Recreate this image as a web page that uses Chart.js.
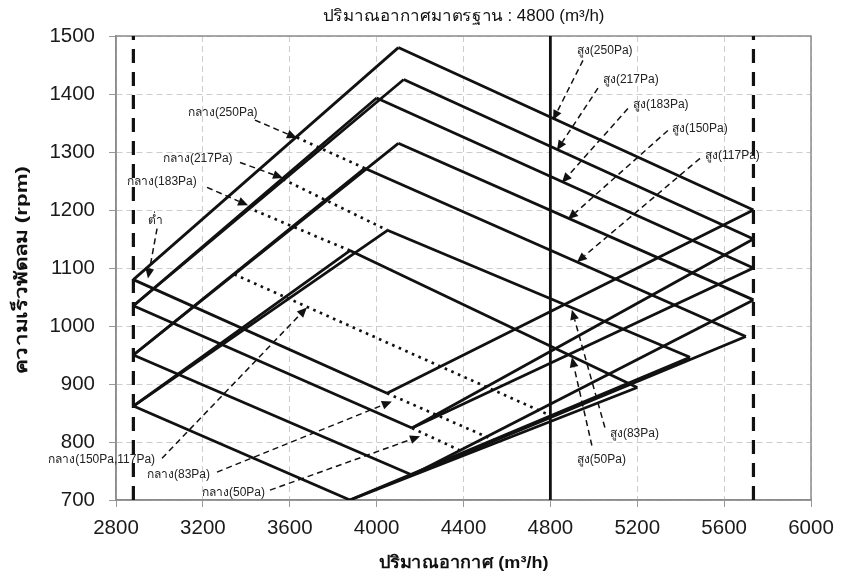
<!DOCTYPE html>
<html>
<head>
<meta charset="utf-8">
<script src="https://cdn.jsdelivr.net/npm/chart.js@4"></script>
<style>
  html, body { margin: 0; padding: 0; background: #ffffff; }
  #wrap { width: 849px; height: 576px; }
</style>
</head>
<body>
<div id="wrap"><canvas id="fanChart" width="849" height="576"></canvas></div>
<script>
// Axis ticks
const airflowTicks = [2800, 3200, 3600, 4000, 4400, 4800, 5200, 5600, 6000];
const rpmTicks = [700, 800, 900, 1000, 1100, 1200, 1300, 1400, 1500];

// Rated airflow and the usable airflow limits (m3/h)
const ratedAirflow = 4800;
const airflowLimits = [2880, 5735];

// Rising lines of each static-pressure setting: low tap point -> high tap point
const rise250 = [[2880, 1080], [4100, 1480]];
const rise217 = [[2880, 1035], [4125, 1425]];
const rise183 = [[2880, 1035], [4000, 1393]];
const rise150 = [[2880, 950], [4100, 1315]];
const rise117 = [[2880, 950], [3945, 1272]];
const rise83 = [[2880, 862], [4050, 1165]];
const rise50 = [[2880, 862], [3877, 1130]];

// High tap lines (สูง)
const high250 = [[4100, 1480], [5735, 1200]];
const high217 = [[4125, 1425], [5735, 1150]];
const high183 = [[4000, 1393], [5735, 1100]];
const high150 = [[4100, 1315], [5735, 1045]];
const high117 = [[3945, 1272], [5700, 982]];
const high83 = [[4050, 1165], [5443, 946]];
const high50 = [[3877, 1130], [5200, 894]];

// Low tap lines (ต่ำ)
const low250 = [[2880, 1080], [4048, 884]];
const low217 = [[2880, 1035], [4163, 824]];
const low150 = [[2880, 950], [4163, 743]];
const low83 = [[2880, 862], [3877, 700]];

// Lower boundary of each setting
const edge250 = [[4048, 884], [5735, 1200]];
const edge217 = [[4163, 824], [5735, 1150]];
const edge183 = [[4163, 824], [5735, 1100]];
const edge150 = [[4163, 743], [5735, 1045]];
const edge117 = [[4163, 743], [5700, 982]];
const edge83 = [[3877, 700], [5443, 946]];
const edge50 = [[3877, 700], [5200, 894]];

// Medium tap lines (กลาง), drawn dotted
const mid250 = [[3633, 1325], [3945, 1272]];
const mid217 = [[3569, 1253], [4050, 1165]];
const mid183 = [[3408, 1204], [3877, 1130]];
const mid150 = [[3345, 1089], [4810, 844]];
const mid83 = [[4048, 884], [4536, 804]];
const mid50 = [[4163, 824], [4398, 783]];

// Callout labels: text, text anchor, alignment, arrow start, arrow tip (data units)
const noteText = ['สูง(250Pa)', 'สูง(217Pa)', 'สูง(183Pa)', 'สูง(150Pa)', 'สูง(117Pa)', 'สูง(83Pa)', 'สูง(50Pa)',
  'กลาง(250Pa)', 'กลาง(217Pa)', 'กลาง(183Pa)', 'ต่ำ', 'กลาง(150Pa,117Pa)', 'กลาง(83Pa)', 'กลาง(50Pa)'];
const noteAt = [[4922, 1475], [5042, 1425], [5180, 1382], [5360, 1341], [5512, 1293], [5074, 815], [4922, 769],
  [3131, 1368], [3016, 1289], [2851, 1248], [2947, 1182], [2980, 769], [3233, 743], [3486, 713]];
const noteAlign = ['left', 'left', 'left', 'left', 'left', 'left', 'left',
  'left', 'left', 'left', 'left', 'right', 'right', 'right'];
const noteFrom = [[4950, 1458], [5019, 1410], [5157, 1375], [5341, 1337], [5489, 1289], [5051, 825], [4991, 794],
  [3440, 1355], [3371, 1282], [3219, 1239], [2989, 1168], [3012, 772], [3265, 748], [3509, 717]];
const noteTip = [[4812, 1355], [4830, 1303], [4853, 1247], [4881, 1184], [4922, 1110], [4899, 1028], [4899, 946],
  [3633, 1324], [3569, 1255], [3408, 1208], [2947, 1082], [3679, 1032], [4070, 870], [4200, 810]];

const FONT = "'Liberation Sans', Arial, sans-serif";
const INK = '#111111';

function series(pts, extra) {
  return Object.assign({
    data: pts.map(([x, y]) => ({ x, y })),
    showLine: true,
    pointRadius: 0,
    pointHoverRadius: 0,
    borderColor: INK,
    borderWidth: 2.8,
    fill: false,
    tension: 0
  }, extra || {});
}

const solid = [rise250, rise217, rise183, rise150, rise117, rise83, rise50,
  high250, high217, high183, high150, high117, high83, high50,
  low250, low217, low150, low83,
  edge250, edge217, edge183, edge150, edge117, edge83, edge50];
const dotted = [mid250, mid217, mid183, mid150, mid83, mid50];

const datasets = [];
airflowLimits.forEach(v => datasets.push(series([[v, rpmTicks[0]], [v, rpmTicks[rpmTicks.length - 1]]],
  { borderWidth: 3.2, borderDash: [14, 9] })));
datasets.push(series([[ratedAirflow, rpmTicks[0]], [ratedAirflow, rpmTicks[rpmTicks.length - 1]]], { borderWidth: 2.8 }));
solid.forEach(p => datasets.push(series(p)));
dotted.forEach(p => datasets.push(series(p, { borderDash: [2.6, 4.6], borderWidth: 2.7 })));

function drawArrow(ctx, x1, y1, x2, y2) {
  const ang = Math.atan2(y2 - y1, x2 - x1);
  const hl = 10, hw = 4.4;
  const bx = x2 - hl * Math.cos(ang), by = y2 - hl * Math.sin(ang);
  ctx.save();
  ctx.strokeStyle = INK;
  ctx.lineWidth = 1.5;
  ctx.setLineDash([6, 4]);
  ctx.beginPath();
  ctx.moveTo(x1, y1);
  ctx.lineTo(bx, by);
  ctx.stroke();
  ctx.setLineDash([]);
  ctx.fillStyle = INK;
  ctx.beginPath();
  ctx.moveTo(x2, y2);
  ctx.lineTo(bx + hw * Math.sin(ang), by - hw * Math.cos(ang));
  ctx.lineTo(bx - hw * Math.sin(ang), by + hw * Math.cos(ang));
  ctx.closePath();
  ctx.fill();
  ctx.restore();
}

// Text drawn at a given width, centred on (x, y)
function fitText(ctx, text, x, y, width) {
  const w = ctx.measureText(text).width;
  ctx.save();
  ctx.translate(x, y);
  ctx.scale(width / w, 1);
  ctx.fillText(text, 0, 0);
  ctx.restore();
}

const decor = {
  id: 'decor',
  beforeDatasetsDraw(chart) {
    const { ctx, chartArea: a } = chart;
    ctx.save();
    ctx.strokeStyle = '#8c8c8c';
    ctx.lineWidth = 1.5;
    ctx.strokeRect(a.left, a.top, a.right - a.left, a.bottom - a.top);
    ctx.restore();
  },
  afterDatasetsDraw(chart) {
    const { ctx } = chart;
    const xs = chart.scales.x, ys = chart.scales.y;
    noteText.forEach((t, i) => {
      drawArrow(ctx, xs.getPixelForValue(noteFrom[i][0]), ys.getPixelForValue(noteFrom[i][1]),
        xs.getPixelForValue(noteTip[i][0]), ys.getPixelForValue(noteTip[i][1]));
      ctx.save();
      ctx.font = '12px ' + FONT;
      ctx.fillStyle = '#222';
      ctx.textAlign = noteAlign[i];
      ctx.textBaseline = 'middle';
      ctx.fillText(t, xs.getPixelForValue(noteAt[i][0]), ys.getPixelForValue(noteAt[i][1]));
      ctx.restore();
    });
  },
  afterDraw(chart) {
    const { ctx, chartArea: a } = chart;
    const cx = (a.left + a.right) / 2;
    ctx.save();
    ctx.fillStyle = '#111';
    ctx.textAlign = 'center';
    ctx.textBaseline = 'middle';
    ctx.font = '16px ' + FONT;
    fitText(ctx, 'ปริมาณอากาศมาตรฐาน : 4800 (m³/h)', cx, 17, 282);
    ctx.font = 'bold 17px ' + FONT;
    fitText(ctx, 'ปริมาณอากาศ (m³/h)', cx, 563, 170);
    ctx.translate(22, (a.top + a.bottom) / 2 + 2);
    ctx.rotate(-Math.PI / 2);
    fitText(ctx, 'ความเร็วพัดลม (rpm)', 0, 0, 208);
    ctx.restore();
  }
};

const tickFont = { size: 20.5, family: FONT };

new Chart(document.getElementById('fanChart'), {
  type: 'scatter',
  data: { datasets },
  options: {
    responsive: false,
    animation: false,
    devicePixelRatio: 1,
    layout: { padding: { left: 0, right: 38, top: 36, bottom: 0 } },
    plugins: { legend: { display: false }, tooltip: { enabled: false }, title: { display: false } },
    scales: {
      x: {
        type: 'linear',
        min: airflowTicks[0],
        max: airflowTicks[airflowTicks.length - 1],
        afterBuildTicks: s => { s.ticks = airflowTicks.map(v => ({ value: v })); },
        afterFit: s => { s.height = 76; },
        ticks: { font: tickFont, color: '#1a1a1a', padding: 9, callback: v => String(v) },
        grid: { color: '#cdcdcd', lineWidth: 1, tickColor: '#999', tickLength: 7 },
        border: { color: '#8c8c8c', width: 1.5, dash: [6, 4] }
      },
      y: {
        type: 'linear',
        min: rpmTicks[0],
        max: rpmTicks[rpmTicks.length - 1],
        afterBuildTicks: s => { s.ticks = rpmTicks.map(v => ({ value: v })); },
        afterFit: s => { s.width = 116; },
        ticks: { font: tickFont, color: '#1a1a1a', padding: 14, callback: v => String(v) },
        grid: { color: '#cdcdcd', lineWidth: 1, tickColor: '#999', tickLength: 7 },
        border: { color: '#8c8c8c', width: 1.5, dash: [6, 4] }
      }
    }
  },
  plugins: [decor]
});
</script>
</body>
</html>
